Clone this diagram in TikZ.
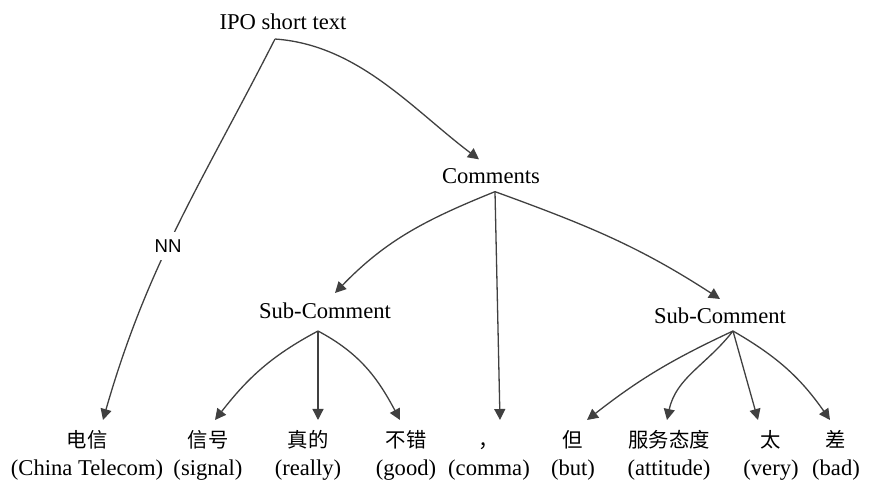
\documentclass[tikz,border=0pt]{standalone}
\usepackage{fontspec}
\setmainfont{Liberation Serif}
\newfontfamily\cjk[Scale=0.9]{Noto Sans CJK SC}
\newfontfamily\nnfont{Liberation Sans}
\newcommand{\zh}[1]{{\cjk\vphantom{电}#1}}
\usetikzlibrary{arrows.meta,positioning,calc}

\begin{document}
\begin{tikzpicture}[x=0.5pt, y=-0.5pt,
    every node/.style={font=\fontsize{11.3}{14}\selectfont},
    arr/.style={draw=black!75, line width=0.65pt, -{Triangle[length=5.5pt,width=5.5pt]}},
    word/.style={anchor=north, align=center, inner xsep=0pt, inner ysep=5pt}]
    \useasboundingbox (0,0) rectangle (869,480);
    \node (ipo) at (283,22) {IPO short text};
    \node (com) at (491,176) {Comments};
    \node (subl) at (325,311) {Sub-Comment};
    \node (subr) at (720,316) {Sub-Comment};
    \node[word] (dianxin) at (87,420) {\zh{电信}\\(China Telecom)};
    \node[word] (xinhao) at (208,420) {\zh{信号}\\(signal)};
    \node[word] (zhende) at (308,420) {\zh{真的}\\(really)};
    \node[word] (bucuo) at (406,420) {\zh{不错}\\(good)};
    \node[word] (douhao) at (489,420) {\zh{，}\\(comma)};
    \node[word] (dan) at (573,420) {\zh{但}\\(but)};
    \node[word] (taidu) at (669,420) {\zh{服务态度}\\(attitude)};
    \node[word] (tai) at (771,420) {\zh{太}\\(very)};
    \node[word] (cha) at (836,420) {\zh{差}\\(bad)};
    \coordinate (ipo-b) at ([shift={(-8,2)}]ipo.south);
    \coordinate (com-b) at ([shift={(4,1)}]com.south);
    \coordinate (subl-b) at ([shift={(-7,5)}]subl.south);
    \coordinate (subr-b) at ([shift={(13,0)}]subr.south);
    \draw[arr] (ipo-b) to[out=-117, in=74]
        node[pos=0.56, fill=white, inner sep=4pt, font=\nnfont\fontsize{9.3}{11}\selectfont] {NN}
        ([shift={(16,0)}]dianxin.north);
    \draw[arr] (ipo-b) to[out=-4, in=143, looseness=0.9] ([shift={(-12,-2)}]com.north);
    \draw[arr] (com-b) to[out=202, in=46] ([shift={(10,-3)}]subl.north);
    \draw[arr] (com-b) -- ([shift={(11,0)}]douhao.north);
    \draw[arr] (com-b) to[out=-20, in=147] ([shift={(0,-2)}]subr.north);
    \draw[arr] (subl-b) to[out=208, in=52] ([shift={(7,0)}]xinhao.north);
    \draw[arr] (subl-b) -- ([shift={(10,0)}]zhende.north);
    \draw[arr] (subl-b) to[out=-28, in=118] ([shift={(-6,0)}]bucuo.north);
    \draw[arr] (subr-b) to[out=205, in=38] ([shift={(14,0)}]dan.north);
    \draw[arr] (subr-b) to[out=232, in=78] ([shift={(-2,0)}]taidu.north);
    \draw[arr] (subr-b) -- ([shift={(-13,0)}]tai.north);
    \draw[arr] (subr-b) to[out=-30, in=125] ([shift={(-6,0)}]cha.north);
\end{tikzpicture}
\end{document}
